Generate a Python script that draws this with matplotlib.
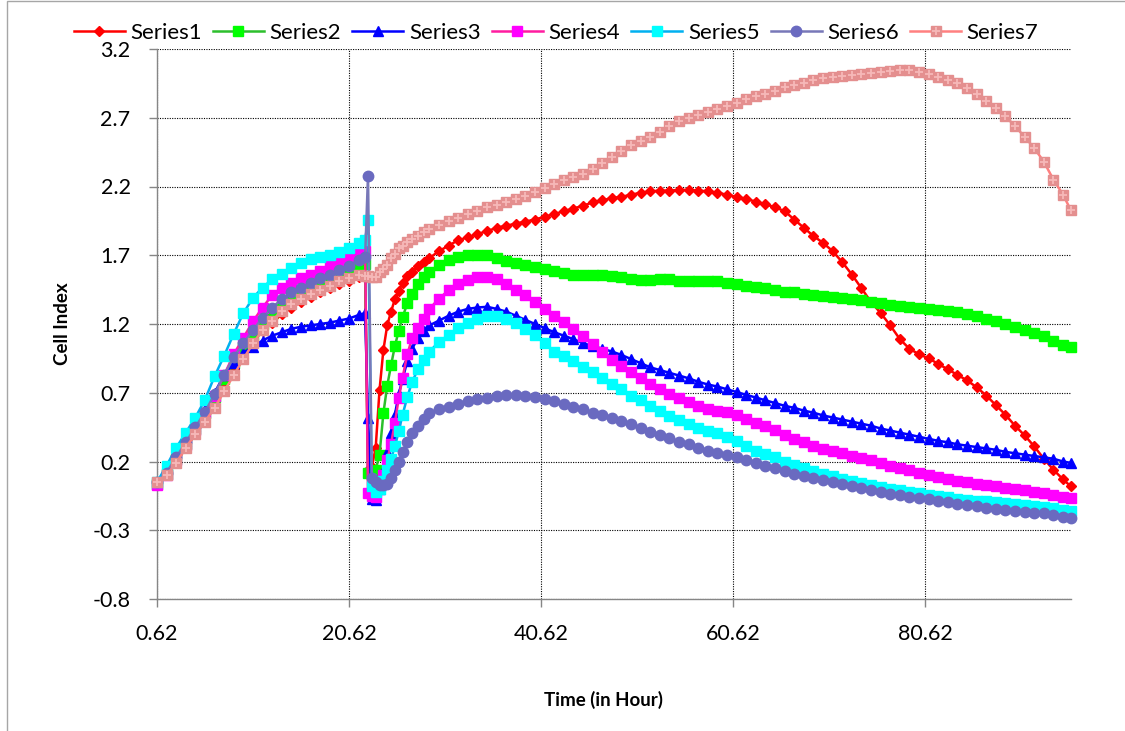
"""Cell index curves (Series1-7) over time, Excel-style line chart."""
import matplotlib
matplotlib.use("Agg")
import matplotlib.pyplot as plt
from matplotlib.patches import Rectangle

plt.rcParams["font.family"] = ["Lato", "DejaVu Sans"]

# sampling times (hours)
TIME = [0.62, 1.62, 2.62, 3.62, 4.62, 5.62, 6.62, 7.62, 8.62, 9.62, 10.62,
        11.62, 12.62, 13.62, 14.62, 15.62, 16.62, 17.62, 18.62, 19.62, 20.62,
        21.62, 22.3,
        22.6, 23.0, 23.4, 23.8, 24.2, 24.6, 25.0, 25.4, 25.8, 26.2, 26.7,
        27.2, 27.8, 28.4, 29.0,
        30, 31, 32, 33, 34, 35, 36, 37, 38, 39, 40, 41, 42, 43, 44, 45, 46,
        47, 48, 49, 50, 51, 52, 53, 54, 55, 56, 57, 58, 59, 60, 61, 62, 63,
        64, 65, 66, 67, 68, 69, 70, 71, 72, 73, 74, 75, 76, 77, 78, 79, 80,
        81, 82, 83, 84, 85, 86, 87, 88, 89, 90, 91, 92, 93, 94, 95, 95.8]

SERIES1 = [0.04, 0.10, 0.19, 0.30, 0.40, 0.50, 0.61, 0.74, 0.87, 0.98, 1.07,
           1.15, 1.21, 1.27, 1.32, 1.36, 1.395, 1.43, 1.46, 1.49, 1.515, 1.54, 1.55,
           0.14, 0.16, 0.30, 0.72, 1.01, 1.19, 1.29, 1.38, 1.44, 1.50, 1.55,
           1.58, 1.62, 1.65, 1.68,
           1.73, 1.77, 1.81, 1.83, 1.855, 1.875, 1.90, 1.915, 1.93, 1.945,
           1.96, 1.98, 2.00, 2.02, 2.04, 2.06, 2.085, 2.10, 2.115, 2.125,
           2.14, 2.155, 2.165, 2.17, 2.17, 2.175, 2.175, 2.17, 2.165, 2.155,
           2.14, 2.125, 2.11, 2.09, 2.07, 2.05, 2.02, 1.96, 1.90, 1.84,
           1.79, 1.73, 1.65, 1.56, 1.46, 1.36, 1.28, 1.19, 1.09, 1.02,
           0.98, 0.95, 0.91, 0.87, 0.83, 0.79, 0.74, 0.68, 0.61, 0.54,
           0.46, 0.39, 0.31, 0.22, 0.14, 0.07, 0.02]

SERIES2 = [0.04, 0.11, 0.22, 0.33, 0.44, 0.55, 0.67, 0.80, 0.92, 1.035, 1.12,
           1.20, 1.275, 1.335, 1.38, 1.415, 1.455, 1.49, 1.525, 1.56, 1.595, 1.63, 1.64,
           0.12, 0.10, 0.14, 0.25, 0.55, 0.75, 0.90, 1.04, 1.15, 1.25, 1.35,
           1.42, 1.49, 1.54, 1.58,
           1.63, 1.665, 1.685, 1.70, 1.70, 1.70, 1.68, 1.66, 1.645, 1.63,
           1.615, 1.60, 1.585, 1.57, 1.56, 1.555, 1.555, 1.555, 1.55, 1.54,
           1.525, 1.52, 1.52, 1.525, 1.53, 1.515, 1.51, 1.51, 1.515, 1.51,
           1.495, 1.49, 1.48, 1.47, 1.46, 1.45, 1.435, 1.43, 1.42, 1.41,
           1.405, 1.40, 1.39, 1.385, 1.375, 1.36, 1.35, 1.34, 1.33, 1.325,
           1.32, 1.31, 1.305, 1.295, 1.285, 1.27, 1.255, 1.24, 1.22, 1.20,
           1.18, 1.16, 1.135, 1.11, 1.08, 1.05, 1.03]

SERIES3 = [0.04, 0.11, 0.23, 0.35, 0.46, 0.58, 0.70, 0.83, 0.92, 0.99, 1.035,
           1.08, 1.115, 1.14, 1.165, 1.18, 1.19, 1.20, 1.21, 1.225, 1.24, 1.265, 1.28,
           0.52, -0.07, -0.08, 0.0, 0.13, 0.27, 0.41, 0.54, 0.69, 0.80, 0.93,
           1.02, 1.10, 1.15, 1.19,
           1.225, 1.26, 1.29, 1.31, 1.32, 1.325, 1.31, 1.29, 1.26, 1.23,
           1.20, 1.17, 1.14, 1.115, 1.09, 1.06, 1.04, 1.02, 1.00, 0.975,
           0.945, 0.915, 0.885, 0.865, 0.845, 0.825, 0.805, 0.78, 0.76, 0.745,
           0.725, 0.705, 0.685, 0.665, 0.645, 0.625, 0.605, 0.59, 0.57, 0.555,
           0.535, 0.52, 0.505, 0.49, 0.475, 0.46, 0.44, 0.425, 0.41, 0.395,
           0.38, 0.365, 0.35, 0.34, 0.325, 0.315, 0.305, 0.295, 0.285, 0.27,
           0.26, 0.25, 0.24, 0.23, 0.22, 0.20, 0.19]

SERIES4 = [0.03, 0.10, 0.21, 0.32, 0.43, 0.55, 0.68, 0.83, 0.98, 1.10, 1.22,
           1.32, 1.41, 1.465, 1.50, 1.535, 1.56, 1.585, 1.62, 1.655, 1.685, 1.715, 1.73,
           -0.03, -0.05, -0.06, 0.02, 0.10, 0.21, 0.33, 0.48, 0.66, 0.81, 0.98,
           1.10, 1.17, 1.24, 1.31,
           1.385, 1.445, 1.49, 1.52, 1.54, 1.545, 1.53, 1.49, 1.45, 1.41,
           1.36, 1.31, 1.26, 1.215, 1.165, 1.11, 1.055, 0.995, 0.94, 0.895,
           0.85, 0.81, 0.765, 0.725, 0.69, 0.66, 0.63, 0.605, 0.585, 0.57,
           0.56, 0.54, 0.51, 0.48, 0.455, 0.43, 0.39, 0.365, 0.34, 0.315,
           0.29, 0.275, 0.26, 0.24, 0.225, 0.21, 0.19, 0.17, 0.155, 0.135,
           0.115, 0.10, 0.09, 0.075, 0.06, 0.05, 0.04, 0.03, 0.02, 0.01,
           0.0, -0.01, -0.02, -0.03, -0.04, -0.055, -0.065]

SERIES5 = [0.05, 0.17, 0.30, 0.41, 0.52, 0.65, 0.82, 0.97, 1.13, 1.28, 1.39,
           1.465, 1.525, 1.565, 1.61, 1.645, 1.67, 1.685, 1.705, 1.725, 1.75, 1.79, 1.81,
           1.96, 0.02, -0.02, 0.0, 0.06, 0.14, 0.22, 0.31, 0.42, 0.54, 0.67,
           0.78, 0.87, 0.94, 1.00,
           1.07, 1.12, 1.17, 1.21, 1.24, 1.255, 1.255, 1.235, 1.205, 1.165,
           1.12, 1.06, 1.00, 0.965, 0.93, 0.89, 0.85, 0.805, 0.765, 0.725,
           0.68, 0.645, 0.605, 0.565, 0.53, 0.505, 0.475, 0.445, 0.425, 0.405,
           0.375, 0.35, 0.31, 0.28, 0.255, 0.23, 0.195, 0.175, 0.15, 0.13,
           0.11, 0.095, 0.075, 0.06, 0.045, 0.03, 0.015, 0.0, -0.01, -0.02,
           -0.03, -0.04, -0.05, -0.06, -0.07, -0.078, -0.085, -0.09, -0.097, -0.104,
           -0.11, -0.118, -0.125, -0.13, -0.138, -0.15, -0.16]

SERIES6 = [0.05, 0.12, 0.23, 0.34, 0.45, 0.56, 0.69, 0.83, 0.96, 1.06, 1.155,
           1.245, 1.32, 1.38, 1.43, 1.465, 1.50, 1.535, 1.56, 1.595, 1.625, 1.665, 1.69,
           2.28, 0.08, 0.05, 0.03, 0.03, 0.04, 0.08, 0.14, 0.20, 0.27, 0.34,
           0.41, 0.46, 0.51, 0.55,
           0.58, 0.60, 0.62, 0.64, 0.655, 0.665, 0.68, 0.685, 0.685, 0.68,
           0.67, 0.655, 0.64, 0.62, 0.60, 0.58, 0.555, 0.535, 0.515, 0.495,
           0.475, 0.445, 0.415, 0.39, 0.37, 0.345, 0.325, 0.30, 0.28, 0.265,
           0.245, 0.23, 0.21, 0.19, 0.17, 0.15, 0.13, 0.11, 0.095, 0.08,
           0.065, 0.05, 0.035, 0.02, 0.005, -0.01, -0.025, -0.035, -0.045, -0.055,
           -0.065, -0.075, -0.085, -0.095, -0.107, -0.117, -0.127, -0.137, -0.145, -0.152,
           -0.16, -0.166, -0.172, -0.178, -0.186, -0.20, -0.21]

SERIES7 = [0.05, 0.10, 0.19, 0.30, 0.40, 0.49, 0.59, 0.71, 0.83, 0.945, 1.06,
           1.155, 1.225, 1.295, 1.345, 1.38, 1.415, 1.45, 1.48, 1.51, 1.535, 1.56, 1.55,
           1.55, 1.54, 1.54, 1.58, 1.60, 1.63, 1.68, 1.71, 1.75, 1.77, 1.80,
           1.82, 1.84, 1.87, 1.89,
           1.92, 1.95, 1.97, 2.00, 2.02, 2.05, 2.065, 2.09, 2.11, 2.13,
           2.16, 2.19, 2.22, 2.245, 2.27, 2.29, 2.33, 2.37, 2.415, 2.46,
           2.50, 2.53, 2.56, 2.60, 2.64, 2.68, 2.70, 2.72, 2.74, 2.765,
           2.785, 2.81, 2.84, 2.86, 2.875, 2.895, 2.925, 2.94, 2.955, 2.975,
           2.99, 3.00, 3.005, 3.012, 3.02, 3.026, 3.035, 3.042, 3.05, 3.045,
           3.03, 3.015, 2.995, 2.975, 2.95, 2.915, 2.875, 2.825, 2.77, 2.71,
           2.64, 2.56, 2.48, 2.38, 2.25, 2.14, 2.03]

X_TICKS = [0.62, 20.62, 40.62, 60.62, 80.62]
Y_TICKS = [-0.8, -0.3, 0.2, 0.7, 1.2, 1.7, 2.2, 2.7, 3.2]

# (label, values, line colour, marker, marker colour, marker size)
STYLES = [
    ("Series1", SERIES1, "#FF0000", "D", "#FF0000", 5.5),
    ("Series2", SERIES2, "#2CBF2C", "s", "#00FF00", 7),
    ("Series3", SERIES3, "#0000FF", "^", "#0000FF", 7.5),
    ("Series4", SERIES4, "#FF1CA0", "s", "#FF00FF", 7),
    ("Series5", SERIES5, "#00B0F0", "s", "#00FFFF", 7),
    ("Series6", SERIES6, "#7878B8", "o", "#6A6AC0", 7.5),
    ("Series7", SERIES7, "#FF8080", "s", "#E48F8F", 7.5),
]

W, H = 1125, 731
fig = plt.figure(figsize=(W / 100, H / 100), dpi=100)
ax = fig.add_axes([157 / W, 1 - 599 / H, (1071 - 157) / W, (599 - 49) / H])

handles = []
for i, (label, vals, lc, mk, mc, ms) in enumerate(STYLES):
    assert len(vals) == len(TIME), label
    ln, = ax.plot(TIME, vals, color=lc, lw=1.8, marker=mk, ms=ms,
                  mfc=mc, mec=mc, clip_on=False, zorder=3 + i)
    if label == "Series7":
        cross, = ax.plot(TIME, vals, ls="none", marker="+", ms=5.5, mew=1.3,
                         color="#F6B8B8", clip_on=False, zorder=3 + i)
        handles.append((ln, cross))
    else:
        handles.append(ln)

ax.set_xlim(0.62, 95.83)
ax.set_ylim(-0.8, 3.2)
ax.set_xticks(X_TICKS)
ax.set_xticklabels([f"{t:.2f}" for t in X_TICKS])
ax.set_yticks(Y_TICKS)
ax.set_yticklabels([f"{t:.1f}" for t in Y_TICKS])

ax.set_axisbelow(True)
ax.grid(True, color="black", linestyle=(0, (1, 1.2)), linewidth=0.8)
for side in ("top", "right"):
    ax.spines[side].set_visible(False)
for side in ("left", "bottom"):
    ax.spines[side].set_color("#868686")
    ax.spines[side].set_linewidth(1.0)
ax.tick_params(axis="both", direction="out", length=6, width=1,
               color="#868686", labelsize=15.5)
ax.tick_params(axis="x", pad=12)
ax.tick_params(axis="y", pad=13)

fig.text(63 / W, 1 - 324 / H, "Cell Index", rotation=90, fontsize=13.5,
         fontweight="bold", ha="center", va="center")
fig.text(603 / W, 1 - 700 / H, "Time (in Hour)", fontsize=13.5,
         fontweight="bold", ha="center", va="center")

fig.legend(handles, [s[0] for s in STYLES], loc="center", ncol=7,
           bbox_to_anchor=(556 / W, 1 - 33 / H), frameon=False,
           fontsize=16, handlelength=2.3, handletextpad=0.25,
           columnspacing=0.5, borderaxespad=0, borderpad=0)

# chart-area border (only left and top edges fall inside the image)
fig.patches.append(Rectangle((7 / W, -0.05), 1.1, 1.05 - 1.5 / H,
                             transform=fig.transFigure, fill=False,
                             ec="#A6A6A6", lw=1))

fig.savefig("out.png", dpi=100)
